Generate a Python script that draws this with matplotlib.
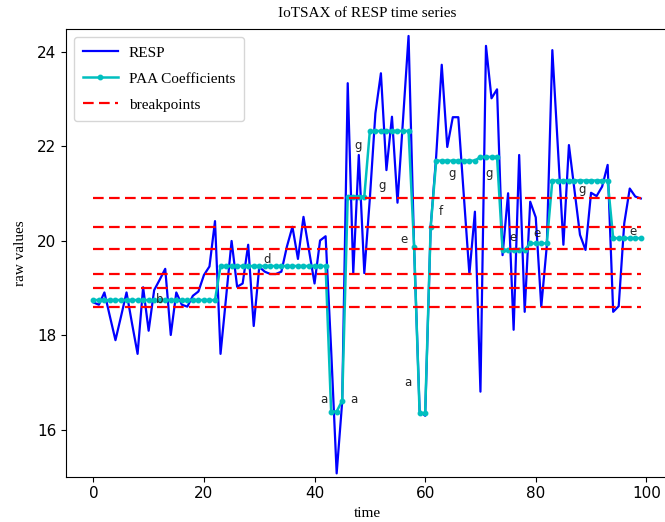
import numpy as np
import matplotlib
matplotlib.use("Agg")
import matplotlib.pyplot as plt

# RESP raw values, one per time step
resp = [18.70, 18.65, 18.91, 18.40, 17.90, 18.40, 18.91, 18.25, 17.61, 19.02,
        18.10, 18.96, 19.18, 19.41, 18.01, 18.91, 18.65, 18.61, 18.84, 18.93,
        19.28, 19.46, 20.42, 17.61, 18.80, 20.00, 19.03, 19.10, 19.92, 18.20,
        19.45, 19.35, 19.30, 19.30, 19.35, 19.88, 20.30, 19.62, 20.51, 19.80,
        19.10, 20.01, 20.10, 17.70, 15.08, 16.60, 23.34, 19.32, 21.82, 19.32,
        20.90, 22.70, 23.55, 21.50, 22.63, 20.81, 22.57, 24.34, 19.88, 16.40,
        16.30, 20.30, 21.80, 23.73, 21.99, 22.62, 22.62, 20.95, 19.30, 20.62,
        16.81, 24.13, 23.02, 23.21, 19.70, 21.01, 18.12, 21.82, 18.50, 20.83,
        20.50, 18.61, 19.90, 24.04, 21.98, 19.92, 22.03, 21.08, 20.13, 19.81,
        21.02, 20.95, 21.15, 21.61, 18.50, 18.62, 20.37, 21.11, 20.94, 20.90]

# PAA segments: length of each segment and its mean level
paa_len = [23, 20, 2, 1, 4, 8, 1, 2, 1, 8, 4, 5, 4, 11, 6]
paa_level = [18.75, 19.47, 16.39, 16.62, 20.94, 22.33, 19.88, 16.35, 20.30,
             21.70, 21.78, 19.81, 19.95, 21.28, 20.06]

breakpoints = [18.61, 19.00, 19.30, 19.82, 20.30, 20.90]

# SAX letters and where they were written
letters = ["b", "d", "a", "a", "g", "g", "e", "a", "f", "g", "g", "e", "e", "g", "e"]
letter_x = [11.9, 31.4, 41.6, 47.1, 47.9, 52.3, 56.2, 56.8, 62.8, 64.9, 71.6, 75.8, 80.2, 88.3, 97.5]
letter_y = [18.77, 19.61, 16.65, 16.64, 22.03, 21.18, 20.04, 17.0, 20.62, 21.42, 21.42, 20.08, 20.16, 21.09, 20.2]

t = np.arange(len(resp))
paa = np.repeat(paa_level, paa_len)

serif = ["Liberation Serif", "DejaVu Serif"]

fig = plt.figure(figsize=(6.65, 5.22), dpi=100)
ax = fig.add_axes([0.0992, 0.0868, 0.9056, 0.857])

ax.plot(t, resp, color="b", lw=1.6, label="RESP")
ax.plot(t, paa, color="c", lw=1.8, marker="o", markersize=3.2, label="PAA Coefficients")
for i, bp in enumerate(breakpoints):
    ax.plot(t, np.full(len(t), bp), color="r", lw=1.6, dashes=(4.8, 2.4),
            label="breakpoints" if i == 0 else None)

for s, x, y in zip(letters, letter_x, letter_y):
    ax.text(x, y, s, ha="center", va="center", fontsize=8.5, color="#222222")

ax.set_ylim(15.01, 24.48)
ax.set_yticks([16, 18, 20, 22, 24])
ax.set_xticks([0, 20, 40, 60, 80, 100])
ax.tick_params(labelsize=11)

ax.set_title("IoTSAX of RESP time series", family=serif, fontsize=11, pad=9)
ax.set_xlabel("time", family=serif, fontsize=11)
ax.set_ylabel("raw values", family=serif, fontsize=11, labelpad=7)
ax.legend(loc="upper left", prop={"family": serif, "size": 11},
          labelspacing=0.8, handlelength=2.3, handletextpad=0.7, borderpad=0.6)

fig.savefig("out.png", dpi=100)
